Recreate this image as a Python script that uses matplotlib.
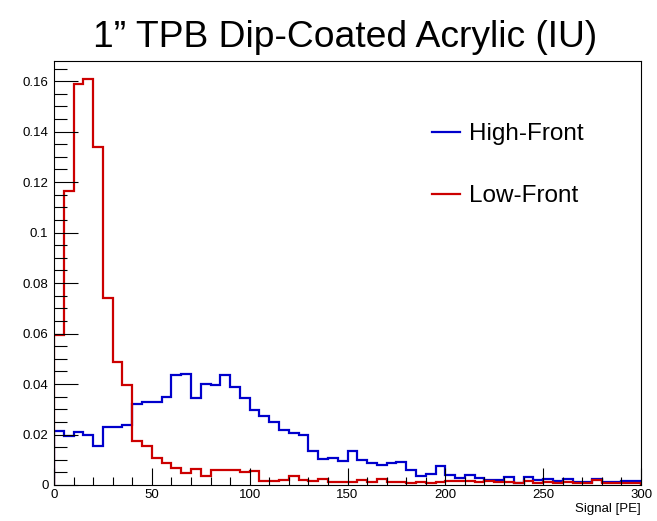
import numpy as np
import matplotlib
matplotlib.use('Agg')
import matplotlib.pyplot as plt
from matplotlib.ticker import MultipleLocator

plt.rcParams['font.family'] = ['Liberation Sans', 'DejaVu Sans']

bin_edges = np.arange(0, 305, 5)

high_front = [
    0.0214, 0.0195, 0.0210, 0.0200, 0.0155, 0.0228, 0.0228, 0.0238, 0.0320, 0.0330,
    0.0330, 0.0350, 0.0435, 0.0438, 0.0343, 0.0400, 0.0396, 0.0435, 0.0390, 0.0343,
    0.0297, 0.0275, 0.0249, 0.0217, 0.0206, 0.0197, 0.0134, 0.0104, 0.0107, 0.0094,
    0.0134, 0.0100, 0.0086, 0.0081, 0.0086, 0.0091, 0.0058, 0.0036, 0.0045, 0.0075,
    0.0040, 0.0029, 0.0040, 0.0029, 0.0019, 0.0021, 0.0032, 0.0006, 0.0032, 0.0019,
    0.0024, 0.0015, 0.0025, 0.0012, 0.0010, 0.0022, 0.0012, 0.0012, 0.0015, 0.0015,
]

low_front = [
    0.0595, 0.1163, 0.1587, 0.1610, 0.1340, 0.0740, 0.0486, 0.0396, 0.0175, 0.0155,
    0.0105, 0.0089, 0.0066, 0.0046, 0.0062, 0.0036, 0.0058, 0.0061, 0.0061, 0.0052,
    0.0054, 0.0016, 0.0015, 0.0020, 0.0037, 0.0018, 0.0016, 0.0025, 0.0012, 0.0012,
    0.0012, 0.0020, 0.0012, 0.0023, 0.0012, 0.0012, 0.0009, 0.0012, 0.0009, 0.0012,
    0.0017, 0.0015, 0.0014, 0.0010, 0.0015, 0.0010, 0.0012, 0.0008, 0.0014, 0.0008,
    0.0010, 0.0008, 0.0012, 0.0008, 0.0007, 0.0018, 0.0009, 0.0008, 0.0009, 0.0009,
]

fig = plt.figure(figsize=(6.57, 5.21), dpi=100)
ax = fig.add_axes([0.0822, 0.0691, 0.8935, 0.8139])

ax.stairs(high_front, bin_edges, color='#0000cc', linewidth=1.6, label='High-Front')
ax.stairs(low_front, bin_edges, color='#cc0000', linewidth=1.6, label='Low-Front')

ax.set_xlim(0, 300)
ax.set_ylim(0, 0.168)

ax.xaxis.set_major_locator(MultipleLocator(50))
ax.xaxis.set_minor_locator(MultipleLocator(10))
ax.yaxis.set_major_locator(MultipleLocator(0.02))
ax.yaxis.set_minor_locator(MultipleLocator(0.005))
ax.yaxis.set_major_formatter(plt.FuncFormatter(lambda v, p: f'{v:g}'))

ax.tick_params(axis='both', which='both', direction='in', labelsize=9.5,
               top=False, right=False, width=0.8)
ax.tick_params(axis='x', which='major', length=12, pad=3)
ax.tick_params(axis='x', which='minor', length=6)
ax.tick_params(axis='y', which='major', length=17, pad=4)
ax.tick_params(axis='y', which='minor', length=9)
for s in ax.spines.values():
    s.set_linewidth(0.8)

ax.set_xlabel('Signal [PE]', fontsize=9.5, loc='right', labelpad=1)

ax.legend(loc='upper left', bbox_to_anchor=(0.607, 0.905), frameon=False,
          fontsize=17.5, handlelength=1.15, handletextpad=0.35, labelspacing=1.65)

fig.text(0.525, 1 - 47 / 521, '1\u201d TPB Dip-Coated Acrylic (IU)', fontsize=26.8,
         ha='center', va='baseline')

fig.savefig('out.png', dpi=100)
